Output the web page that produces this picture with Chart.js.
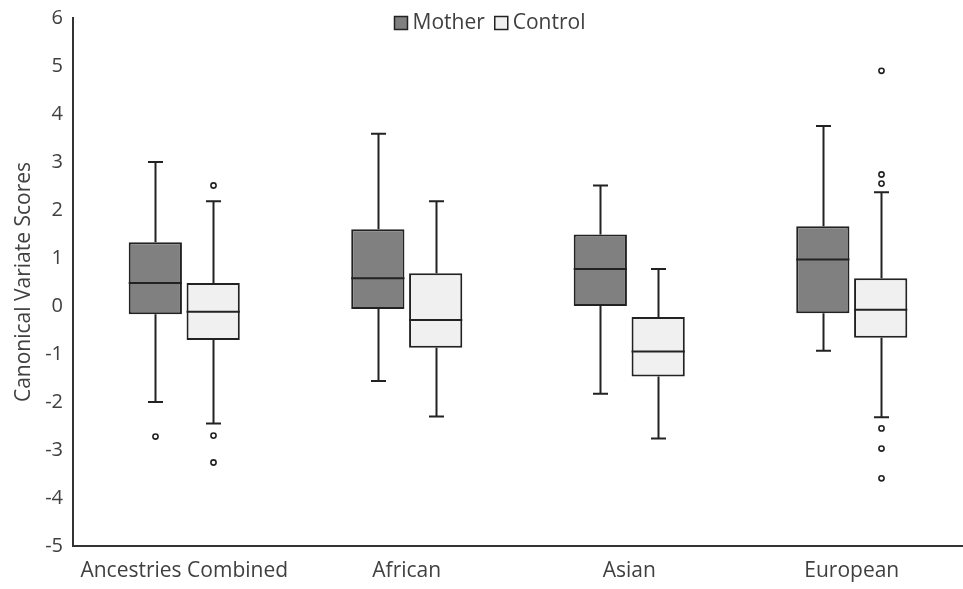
<!DOCTYPE html>
<html>
<head>
<meta charset="utf-8">
<title>Canonical Variate Scores</title>
<script src="https://cdn.jsdelivr.net/npm/chart.js@4/dist/chart.umd.min.js"></script>
<style>
    html, body { margin: 0; padding: 0; background: #ffffff; }
    #wrap { width: 963px; height: 589px; }
</style>
</head>
<body>
<div id="wrap"><canvas id="boxChart" width="963" height="589"></canvas></div>
<script>
// Categories and tick range
const categories = ['Ancestries Combined', 'African', 'Asian', 'European'];
const yMin = -5;
const yMax = 6;

// Mother group (five-number summary + outliers)
const motherMin = [-2.0, -1.56, -1.83, -0.93];
const motherQ1 = [-0.17, -0.06, 0.0, -0.15];
const motherMedian = [0.48, 0.58, 0.77, 0.97];
const motherQ3 = [1.33, 1.60, 1.49, 1.66];
const motherMax = [3.0, 3.59, 2.51, 3.75];
const motherOutliers = [[-2.72], [], [], []];

// Control group
const controlMin = [-2.45, -2.30, -2.76, -2.32];
const controlQ1 = [-0.71, -0.87, -1.47, -0.66];
const controlMedian = [-0.12, -0.29, -0.95, -0.08];
const controlQ3 = [0.48, 0.68, -0.23, 0.58];
const controlMax = [2.18, 2.18, 0.77, 2.37];
const controlOutliers = [[2.51, -2.70, -3.26], [], [], [4.90, 2.74, 2.55, -2.55, -2.97, -3.59]];

const FONT = "'Open Sans', 'DejaVu Sans', sans-serif";
const INK = '#222222';
const TEXT = '#404040';

const BoxChart = {
    chartInstance: null,

    /**
     * Extra box-plot parts per dataset, keyed by dataset index
     */
    stats: [
        { min: motherMin, median: motherMedian, max: motherMax, outliers: motherOutliers },
        { min: controlMin, median: controlMedian, max: controlMax, outliers: controlOutliers }
    ],

    /**
     * Whiskers, medians, outliers and the legend
     */
    boxPlugin: {
        id: 'boxExtras',
        afterDatasetsDraw(chart) {
            const ctx = chart.ctx;
            const y = chart.scales.y;

            ctx.save();
            ctx.strokeStyle = INK;
            ctx.lineWidth = 2;

            BoxChart.stats.forEach((s, di) => {
                const meta = chart.getDatasetMeta(di);
                const box = chart.data.datasets[di].data;
                meta.data.forEach((bar, i) => {
                    const x = Math.round(bar.x) + 0.5;
                    const half = bar.width / 2;
                    const cap = 7.5;
                    const lo = y.getPixelForValue(box[i][0]);
                    const hi = y.getPixelForValue(box[i][1]);
                    const pMin = y.getPixelForValue(s.min[i]);
                    const pMax = y.getPixelForValue(s.max[i]);
                    const pMed = y.getPixelForValue(s.median[i]);

                    ctx.beginPath();
                    // upper whisker
                    ctx.moveTo(x, hi);
                    ctx.lineTo(x, pMax);
                    ctx.moveTo(x - cap, pMax);
                    ctx.lineTo(x + cap, pMax);
                    // lower whisker
                    ctx.moveTo(x, lo);
                    ctx.lineTo(x, pMin);
                    ctx.moveTo(x - cap, pMin);
                    ctx.lineTo(x + cap, pMin);
                    // median
                    ctx.moveTo(bar.x - half, pMed);
                    ctx.lineTo(bar.x + half, pMed);
                    ctx.stroke();

                    // outliers
                    ctx.lineWidth = 1.6;
                    s.outliers[i].forEach(v => {
                        ctx.beginPath();
                        ctx.arc(x, y.getPixelForValue(v), 2.6, 0, Math.PI * 2);
                        ctx.fillStyle = '#ffffff';
                        ctx.fill();
                        ctx.stroke();
                    });
                    ctx.lineWidth = 2;
                });
            });

            // legend drawn inside the plot area, near the top
            ctx.font = '21px ' + FONT;
            ctx.textBaseline = 'middle';
            ctx.textAlign = 'left';
            const items = chart.data.datasets.map(d => ({ text: d.label, fill: d.backgroundColor }));
            const box = 13;
            const gap = 5;
            const spacing = 10;
            const widths = items.map(it => box + gap + ctx.measureText(it.text).width);
            const total = widths.reduce((a, b) => a + b, 0) + spacing * (items.length - 1);
            let lx = (chart.chartArea.left + chart.chartArea.right) / 2 - total / 2 - 28;
            const ly = 23;
            ctx.lineWidth = 1.5;
            items.forEach((it, k) => {
                ctx.fillStyle = it.fill;
                ctx.fillRect(lx, ly - box / 2, box, box);
                ctx.strokeRect(lx, ly - box / 2, box, box);
                ctx.fillStyle = TEXT;
                ctx.fillText(it.text, lx + box + gap, ly);
                lx += widths[k] + spacing;
            });

            ctx.restore();
        }
    },

    /**
     * Build the chart
     */
    render() {
        const ctx = document.getElementById('boxChart');

        const datasets = [
            { label: 'Mother', q1: motherQ1, q3: motherQ3, fill: '#808080' },
            { label: 'Control', q1: controlQ1, q3: controlQ3, fill: '#f0f0f0' }
        ].map(g => ({
            label: g.label,
            data: categories.map((c, i) => [g.q1[i], g.q3[i]]),
            backgroundColor: g.fill,
            borderColor: INK,
            borderWidth: 2,
            borderSkipped: false,
            categoryPercentage: 0.52,
            barPercentage: 0.92
        }));

        this.chartInstance = new Chart(ctx, {
            type: 'bar',
            data: {
                labels: categories,
                datasets: datasets
            },
            options: {
                responsive: false,
                animation: false,
                layout: {
                    padding: { top: 0, right: 0, bottom: 0, left: 0 }
                },
                plugins: {
                    legend: { display: false },
                    tooltip: { enabled: false }
                },
                scales: {
                    x: {
                        grid: { display: false, drawTicks: false },
                        border: { color: '#333333', width: 2 },
                        ticks: {
                            color: TEXT,
                            font: { family: FONT, size: 21 },
                            padding: 12,
                            maxRotation: 0
                        },
                        afterFit(scale) { scale.height = 43; }
                    },
                    y: {
                        min: yMin,
                        max: yMax,
                        grid: { display: false, drawTicks: false },
                        border: { color: '#333333', width: 2 },
                        ticks: {
                            stepSize: 1,
                            color: TEXT,
                            font: { family: FONT, size: 20, lineHeight: 0.8 },
                            padding: 10
                        },
                        title: {
                            display: true,
                            text: 'Canonical Variate Scores',
                            color: TEXT,
                            font: { family: FONT, size: 21 },
                            padding: { top: 11, bottom: 0 }
                        },
                        afterFit(scale) { scale.width = 73; }
                    }
                }
            },
            plugins: [this.boxPlugin]
        });
    }
};

BoxChart.render();
</script>
</body>
</html>
